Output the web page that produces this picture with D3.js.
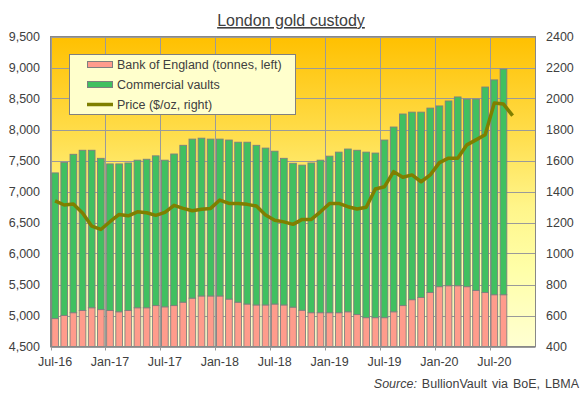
<!DOCTYPE html>
<html>
<head>
<meta charset="utf-8">
<script src="https://cdn.jsdelivr.net/npm/d3@7"></script>
<style>
  body { margin: 0; background: #fff; }
  svg { display: block; font-family: 'Liberation Sans', Arial, sans-serif; }
</style>
</head>
<body>
<svg width="584" height="396"></svg>
<script>
const months = ['Jul-16','Aug-16','Sep-16','Oct-16','Nov-16','Dec-16',
    'Jan-17','Feb-17','Mar-17','Apr-17','May-17','Jun-17','Jul-17','Aug-17','Sep-17','Oct-17','Nov-17','Dec-17',
    'Jan-18','Feb-18','Mar-18','Apr-18','May-18','Jun-18','Jul-18','Aug-18','Sep-18','Oct-18','Nov-18','Dec-18',
    'Jan-19','Feb-19','Mar-19','Apr-19','May-19','Jun-19','Jul-19','Aug-19','Sep-19','Oct-19','Nov-19','Dec-19',
    'Jan-20','Feb-20','Mar-20','Apr-20','May-20','Jun-20','Jul-20','Aug-20','Sep-20','Oct-20','Nov-20'];

// tonnes
const boe = [4950, 5000, 5045, 5080, 5125, 5095,
    5080, 5060, 5080, 5125, 5125, 5160, 5140, 5160, 5215, 5280, 5315, 5315,
    5315, 5265, 5215, 5185, 5170, 5170, 5185, 5170, 5135, 5085, 5045, 5045,
    5045, 5045, 5060, 5015, 4965, 4965, 4965, 5060, 5160, 5255, 5290, 5370,
    5465, 5480, 5480, 5465, 5405, 5370, 5335, 5335];

const commercial = [2350, 2470, 2555, 2585, 2540, 2440,
    2365, 2385, 2380, 2380, 2395, 2415, 2365, 2445, 2530, 2565, 2545, 2530,
    2530, 2565, 2580, 2610, 2575, 2530, 2465, 2365, 2320, 2340, 2415, 2460,
    2525, 2590, 2625, 2650, 2670, 2655, 2865, 2980, 3090, 3025, 2990, 2975,
    2915, 2980, 3045, 3025, 3085, 3315, 3465, 3640];

// $/oz
const price = [1340, 1313, 1319, 1262, 1177, 1155,
    1205, 1252, 1243, 1269, 1263, 1246, 1265, 1311, 1291, 1276, 1285, 1291,
    1345, 1323, 1323, 1317, 1306, 1248, 1215, 1204, 1188, 1220, 1220, 1269,
    1323, 1323, 1302, 1287, 1298, 1416, 1431, 1528, 1492, 1507, 1463, 1507,
    1586, 1615, 1615, 1701, 1733, 1766, 1971, 1964, 1889];

const leftTicks = d3.range(4500, 9501, 500);
const rightTicks = d3.range(400, 2401, 200);
const xLabels = ['Jul-16','Jan-17','Jul-17','Jan-18','Jul-18','Jan-19','Jul-19','Jan-20','Jul-20'];

const plot = { left: 50.5, right: 535.5, top: 36.5, bottom: 346.5 };
const textColor = '#404040';
const gridColor = '#9a9a9a';

let svg = d3.select('svg');

let x = d3.scaleBand()
    .domain(months)
    .range([plot.left, plot.right])
    .paddingInner(0.27)
    .paddingOuter(0.135);
let yLeft = d3.scaleLinear().domain([4500, 9500]).range([plot.bottom, plot.top]);
let yRight = d3.scaleLinear().domain([400, 2400]).range([plot.bottom, plot.top]);

let step = x.step();
let boundary = m => x(m) - x.paddingInner() * step / 2;
let center = m => x(m) + x.bandwidth() / 2;

let grad = svg.append('defs').append('linearGradient')
    .attr('id', 'bg').attr('x1', 0).attr('y1', 0).attr('x2', 0).attr('y2', 1);
[[0, '#ffc000'], [0.3, '#ffdc48'], [0.55, '#fff58a'], [0.75, '#ffffa8'], [1, '#ffffd2']]
    .forEach(s => grad.append('stop').attr('offset', s[0]).attr('stop-color', s[1]));

svg.append('rect')
    .attr('x', plot.left).attr('y', plot.top)
    .attr('width', plot.right - plot.left).attr('height', plot.bottom - plot.top)
    .attr('fill', 'url(#bg)');

// grid
svg.append('g').selectAll('line')
    .data(leftTicks)
    .enter().append('line')
    .attr('x1', plot.left).attr('x2', plot.right)
    .attr('y1', d => Math.round(yLeft(d)) + 0.5).attr('y2', d => Math.round(yLeft(d)) + 0.5)
    .attr('stroke', gridColor);

svg.append('g').selectAll('line')
    .data(xLabels)
    .enter().append('line')
    .attr('x1', d => Math.round(boundary(d)) + 0.5).attr('x2', d => Math.round(boundary(d)) + 0.5)
    .attr('y1', plot.top).attr('y2', plot.bottom + 4)
    .attr('stroke', gridColor);

// bars
let bars = svg.append('g');
bars.selectAll('rect.boe')
    .data(boe)
    .enter().append('rect')
    .attr('class', 'boe')
    .attr('x', (d, i) => x(months[i]))
    .attr('width', x.bandwidth())
    .attr('y', d => yLeft(d))
    .attr('height', d => plot.bottom - yLeft(d))
    .attr('fill', '#ff9c8c')
    .attr('stroke', '#7f7f7f')
    .attr('stroke-width', 0.9);

bars.selectAll('rect.com')
    .data(commercial)
    .enter().append('rect')
    .attr('class', 'com')
    .attr('x', (d, i) => x(months[i]))
    .attr('width', x.bandwidth())
    .attr('y', (d, i) => yLeft(boe[i] + d))
    .attr('height', (d, i) => yLeft(boe[i]) - yLeft(boe[i] + d))
    .attr('fill', '#40c060')
    .attr('stroke', '#7f7f7f')
    .attr('stroke-width', 0.9);

// price line
let line = d3.line()
    .x((d, i) => center(months[i]))
    .y(d => yRight(d));

svg.append('path')
    .datum(price)
    .attr('d', line)
    .attr('fill', 'none')
    .attr('stroke', '#7f7f00')
    .attr('stroke-width', 3.5)
    .attr('stroke-linejoin', 'round');

// plot frame
svg.append('rect')
    .attr('x', plot.left).attr('y', plot.top)
    .attr('width', plot.right - plot.left).attr('height', plot.bottom - plot.top)
    .attr('fill', 'none')
    .attr('stroke', '#888');

// axes labels
svg.append('g').selectAll('text')
    .data(leftTicks)
    .enter().append('text')
    .attr('x', 40).attr('y', d => yLeft(d))
    .attr('dy', '0.35em')
    .attr('text-anchor', 'end')
    .attr('font-size', 12.5)
    .attr('fill', textColor)
    .text(d3.format(','));

svg.append('g').selectAll('text')
    .data(rightTicks)
    .enter().append('text')
    .attr('x', 546).attr('y', d => yRight(d))
    .attr('dy', '0.35em')
    .attr('font-size', 12.5)
    .attr('fill', textColor)
    .text(d => d);

svg.append('g').selectAll('text')
    .data(xLabels)
    .enter().append('text')
    .attr('x', d => center(d))
    .attr('y', 366)
    .attr('text-anchor', 'middle')
    .attr('font-size', 12.5)
    .attr('fill', textColor)
    .text(d => d);

// title
svg.append('text')
    .attr('x', 291).attr('y', 26)
    .attr('text-anchor', 'middle')
    .attr('font-size', 16)
    .attr('text-decoration', 'underline')
    .attr('fill', textColor)
    .text('London gold custody');

let source = svg.append('text')
    .attr('x', 579).attr('y', 388)
    .attr('text-anchor', 'end')
    .attr('font-size', 12.5)
    .attr('word-spacing', 1.5)
    .attr('fill', textColor);
source.append('tspan').attr('font-style', 'italic').text('Source:');
source.append('tspan').text(' BullionVault via BoE, LBMA');

// legend
let legend = svg.append('g');
legend.append('rect')
    .attr('x', 69.5).attr('y', 54.5)
    .attr('width', 226).attr('height', 60)
    .attr('fill', '#ffffcc')
    .attr('stroke', '#808080');

let items = [
    { name: 'Bank of England (tonnes, left)', type: 'bar', color: '#ff9c8c' },
    { name: 'Commercial vaults', type: 'bar', color: '#40c060' },
    { name: 'Price ($/oz, right)', type: 'line', color: '#7f7f00' }
];

let entry = legend.selectAll('g')
    .data(items)
    .enter().append('g')
    .attr('transform', (d, i) => `translate(0,${64.5 + i * 20})`);

entry.filter(d => d.type === 'bar')
    .append('rect')
    .attr('x', 87.5).attr('y', -3)
    .attr('width', 25).attr('height', 6)
    .attr('fill', d => d.color)
    .attr('stroke', '#7f7f7f');

entry.filter(d => d.type === 'line')
    .append('line')
    .attr('x1', 87).attr('x2', 113)
    .attr('stroke', d => d.color)
    .attr('stroke-width', 3.5);

entry.append('text')
    .attr('x', 117).attr('dy', '0.35em')
    .attr('font-size', 12.5)
    .attr('fill', textColor)
    .text(d => d.name);
</script>
</body>
</html>
